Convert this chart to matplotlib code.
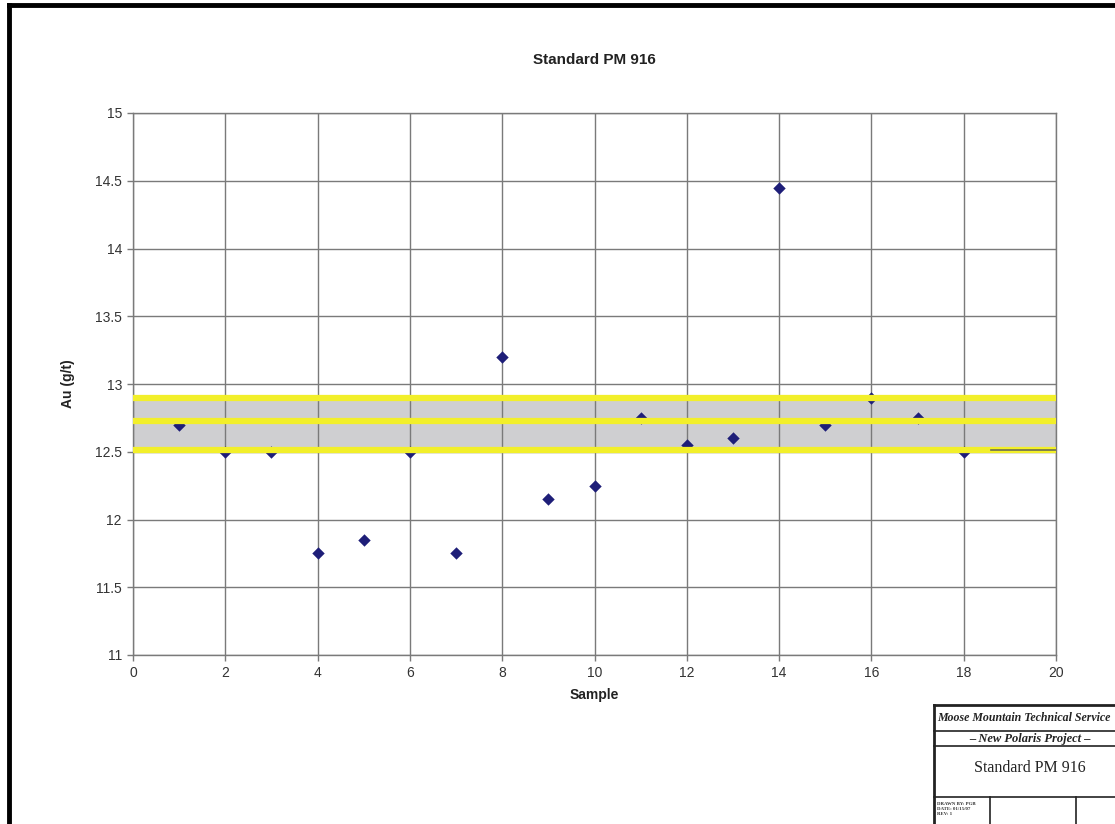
import matplotlib
matplotlib.use("Agg")
import matplotlib.pyplot as plt
from matplotlib.lines import Line2D

# Data
samples = [1, 2, 3, 4, 5, 6, 7, 8, 9, 10, 11, 12, 13, 14, 15, 16, 17, 18]
au_gt = [12.70, 12.50, 12.50, 11.75, 11.85, 12.50, 11.75, 13.20, 12.15,
         12.25, 12.75, 12.55, 12.60, 14.45, 12.70, 12.90, 12.75, 12.50]

# control band (lower, mean, upper)
band_low = 12.51
band_mid = 12.73
band_high = 12.90

x_ticks = list(range(0, 21, 2))
y_ticks = [11, 11.5, 12, 12.5, 13, 13.5, 14, 14.5, 15]
y_labels = ["11", "11.5", "12", "12.5", "13", "13.5", "14", "14.5", "15"]

W, H = 1115, 824
plt.rcParams['font.family'] = ['Liberation Sans', 'DejaVu Sans']

fig = plt.figure(figsize=(W / 100, H / 100), dpi=100)


def fx(px):
    return px / W


def fy(py):
    return 1 - py / H


ax = fig.add_axes([fx(133), fy(655), fx(1056) - fx(133), fy(113) - fy(655)])

grid_col = "#7a7a7a"

# gray band + yellow limit lines
ax.fill_between([0, 20], band_low, band_high, color="#cfcfd1", zorder=1, lw=0)
ax.set_axisbelow(False)
ax.grid(True, color=grid_col, lw=1.0, zorder=2)
for g in ax.get_xgridlines() + ax.get_ygridlines():
    g.set_zorder(2)

ax.scatter(samples, au_gt, marker="D", s=40, color="#1e1e78", zorder=3, lw=0)

for yv in [band_low, band_mid, band_high]:
    ax.plot([0, 20], [yv, yv], color="#f2ef2a", lw=4.5, zorder=4,
            solid_capstyle="butt")
ax.plot([18.6, 20], [band_low, band_low], color="#6b6b55", lw=1.2, zorder=5)

ax.set_xlim(0, 20)
ax.set_ylim(11, 15)
ax.set_xticks(x_ticks)
ax.set_yticks(y_ticks)
ax.set_yticklabels(y_labels)
ax.tick_params(axis="both", labelsize=10, colors="#333333", length=4,
               width=1, direction="out", pad=4)
ax.tick_params(axis="both", colors=grid_col, labelcolor="#333333")
for s in ax.spines.values():
    s.set_color(grid_col)
    s.set_linewidth(1.0)

ax.set_xlabel("Sample", fontsize=10, fontweight="bold", color="#222222", labelpad=6)
ax.set_ylabel("Au (g/t)", fontsize=10, fontweight="bold", color="#222222", labelpad=14)
ax.set_title("Standard PM 916", fontsize=11, fontweight="bold", color="#222222", pad=35)

# outer page border
fig.add_artist(Line2D([fx(9), fx(9)], [fy(5), 0], color="black", lw=3.5))
fig.add_artist(Line2D([fx(9), 1], [fy(5), fy(5)], color="black", lw=3.5))

# title block at bottom right
blk = "#222222"
fig.add_artist(Line2D([fx(934), fx(934)], [fy(705), 0], color=blk, lw=2))
fig.add_artist(Line2D([fx(934), 1], [fy(705), fy(705)], color=blk, lw=2))
for yy in [731, 746, 797]:
    fig.add_artist(Line2D([fx(934), 1], [fy(yy), fy(yy)], color=blk, lw=1.2))
for xx in [990, 1076]:
    fig.add_artist(Line2D([fx(xx), fx(xx)], [fy(797), 0], color=blk, lw=1.2))

fig.text(fx(937), fy(718), "Moose Mountain Technical Service", family="Liberation Serif",
         fontsize=8.6, fontweight="bold", style="italic", va="center", ha="left", color="#222222")
fig.text(fx(1030), fy(739), "\u2013 New Polaris Project \u2013", family="Liberation Serif",
         fontsize=9, fontweight="bold", style="italic", va="center", ha="center", color="#222222")
fig.text(fx(1030), fy(768), "Standard PM 916", family="Liberation Serif",
         fontsize=11.5, va="center", ha="center", color="#222222")
fig.text(fx(937), fy(809), "DRAWN BY: PGB\nDATE: 01/15/07\nREV: 1", family="Liberation Serif",
         fontsize=3.5, fontweight="bold", va="center", ha="left", color="#333333",
         linespacing=1.2)

fig.savefig("out.png", dpi=100)
